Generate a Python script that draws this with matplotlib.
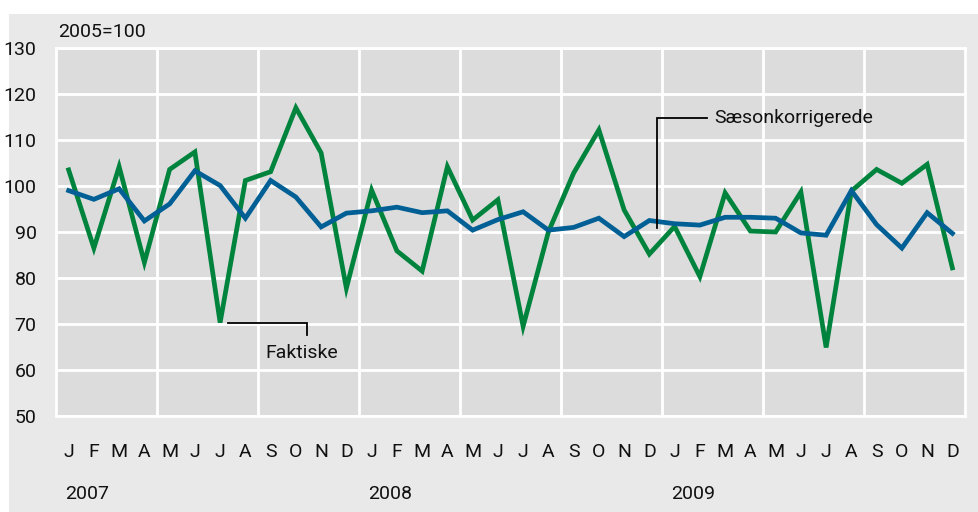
import matplotlib
matplotlib.use("Agg")
import matplotlib.pyplot as plt
from matplotlib.patches import Rectangle
import numpy as np

months = ["J", "F", "M", "A", "M", "J", "J", "A", "S", "O", "N", "D"] * 3
years = ["2007", "2008", "2009"]
yticks = [50, 60, 70, 80, 90, 100, 110, 120, 130]

faktiske = [103.5, 86.5, 104.2, 83.4, 103.6, 107.4, 70.3, 101.2, 103.1, 117.0, 107.2, 77.8,
            99.1, 85.9, 81.5, 104.2, 92.6, 97.0, 69.5, 90.0, 102.8, 112.2, 94.8, 85.2,
            91.2, 80.3, 98.5, 90.2, 90.0, 98.7, 64.9, 98.9, 103.6, 100.6, 104.7, 82.2]
saeson = [99.0, 97.1, 99.4, 92.4, 96.1, 103.3, 100.1, 93.0, 101.2, 97.6, 91.1, 94.1,
          94.6, 95.4, 94.2, 94.6, 90.4, 92.7, 94.4, 90.4, 91.0, 93.0, 89.0, 92.5,
          91.8, 91.5, 93.2, 93.2, 93.0, 89.8, 89.3, 99.0, 91.6, 86.5, 94.2, 89.7]

FONT = ["Roboto", "DejaVu Sans"]
plt.rcParams["font.family"] = FONT
FS = 14
TC = "#111111"

W, H = 979, 512
fig = plt.figure(figsize=(W / 100, H / 100), dpi=100)
fig.patch.set_facecolor("white")
bg = Rectangle((9 / W, 0), 1 - 9 / W, 1 - 14 / H, transform=fig.transFigure,
               facecolor="#e9e9e9", edgecolor="none", zorder=-10)
fig.add_artist(bg)

ax = fig.add_axes([56 / W, 1 - 416 / H, (965 - 56) / W, (416 - 48) / H])
ax.set_zorder(1)
ax.set_facecolor("#dcdcdc")
x = np.arange(len(faktiske)) + 0.5
ax.set_xlim(0, 36)
ax.set_ylim(50, 130)

for v in range(4, 36, 4):
    ax.axvline(v, color="white", lw=2, zorder=1)
for v in yticks:
    ax.axhline(v, color="white", lw=2, zorder=1)
for s in ax.spines.values():
    s.set_color("white")
    s.set_linewidth(2)

ax.plot(x, faktiske, color="#00843d", lw=3.4, zorder=3, solid_joinstyle="miter")
ax.plot(x, saeson, color="#005f94", lw=3.4, zorder=4, solid_joinstyle="miter")

ax.set_xticks([])
ax.set_yticks(yticks)
ax.set_yticklabels([str(v) for v in yticks], fontsize=FS, color=TC)
ax.tick_params(axis="y", length=0, pad=14)

tr = ax.get_xaxis_transform()
for i, m in enumerate(months):
    ax.text(i + 0.5, -0.098, m, transform=tr, ha="center", va="center",
            fontsize=FS, color=TC)
for k, yr in enumerate(years):
    ax.text(12 * k + 0.35, -0.212, yr, transform=tr, ha="left", va="center",
            fontsize=FS, color=TC)

ax.text(0.002, 1.043, "2005=100", transform=ax.transAxes, ha="left", va="center",
        fontsize=FS, color=TC)

# annotations
i_f = 6
ax.plot([x[i_f] + 0.3, 9.95, 9.95], [faktiske[i_f], faktiske[i_f], 67.6],
        color="black", lw=1.3, zorder=5, solid_joinstyle="miter")
ax.text(9.75, 63.7, "Faktiske", ha="center", va="center", fontsize=FS, color=TC, zorder=5)

i_s = 23
ax.plot([x[i_s] + 0.3, x[i_s] + 0.3, 25.8], [saeson[i_s] - 1.6, 114.8, 114.8],
        color="black", lw=1.3, zorder=5, solid_joinstyle="miter")
ax.text(26.05, 114.8, "Sæsonkorrigerede", ha="left", va="center", fontsize=FS,
        color=TC, zorder=5)

fig.savefig("out.png", dpi=100)
